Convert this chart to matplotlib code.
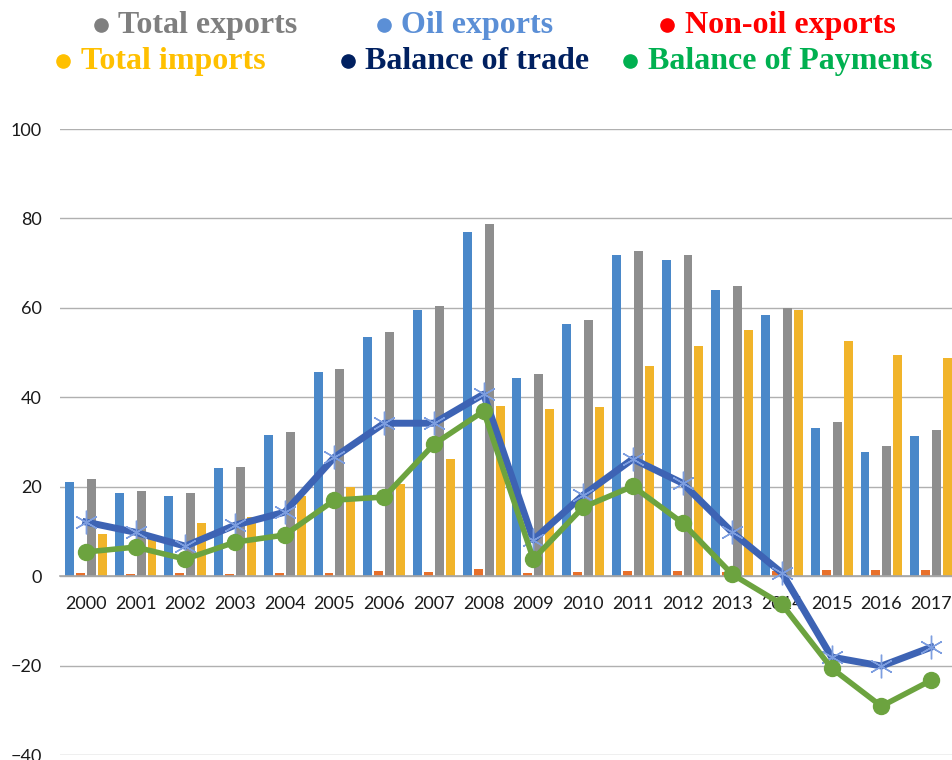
import matplotlib.pyplot as plt
import numpy as np

# Values (billions)
years = ["2000", "2001", "2002", "2003", "2004", "2005", "2006", "2007", "2008",
         "2009", "2010", "2011", "2012", "2013", "2014", "2015", "2016", "2017"]
oil_exports = [21.1, 18.5, 18.0, 24.1, 31.5, 45.7, 53.5, 59.5, 77.0,
               44.3, 56.3, 71.8, 70.6, 63.9, 58.4, 33.1, 27.8, 31.3]
non_oil_exports = [0.6, 0.5, 0.6, 0.5, 0.7, 0.7, 1.1, 1.0, 1.5,
                   0.8, 0.9, 1.1, 1.2, 0.9, 1.2, 1.4, 1.4, 1.4]
total_exports = [21.7, 19.0, 18.6, 24.5, 32.2, 46.3, 54.6, 60.5, 78.7,
                 45.3, 57.2, 72.8, 71.8, 64.9, 60.0, 34.5, 29.1, 32.7]
total_imports = [9.4, 9.3, 11.8, 13.2, 18.0, 19.9, 20.6, 26.2, 38.0,
                 37.3, 37.8, 47.0, 51.4, 55.0, 59.5, 52.6, 49.4, 48.8]
balance_trade = [12.1, 9.8, 6.7, 11.4, 14.3, 26.6, 34.2, 34.2, 40.7,
                 8.1, 18.1, 26.2, 20.8, 9.8, 0.7, -18.1, -20.1, -15.9]
balance_payments = [5.4, 6.5, 3.8, 7.6, 9.2, 17.0, 17.7, 29.5, 36.9,
                    3.8, 15.4, 20.1, 11.9, 0.4, -6.3, -20.6, -29.1, -23.3]

legend_rows = [
    [("Total exports", "#7f7f7f"), ("Oil exports", "#5b8fd6"), ("Non-oil exports", "#ff0000")],
    [("Total imports", "#ffc000"), ("Balance of trade", "#002060"), ("Balance of Payments", "#00b050")],
]

W, H = 953, 760
fig = plt.figure(figsize=(W / 100, H / 100), dpi=100)
ax = fig.add_axes([60 / W, 5 / H, 893 / W, 626 / H])

x = np.arange(len(years))
w = 0.18
ax.bar(x - 0.33, oil_exports, w, color="#4a88c9", zorder=2)
ax.bar(x - 0.11, non_oil_exports, w, color="#e8702a", zorder=2)
ax.bar(x + 0.11, total_exports, w, color="#8e8e8e", zorder=2)
ax.bar(x + 0.33, total_imports, w, color="#f1b42a", zorder=2)

ax.plot(x, balance_trade, color="#3d63b4", linewidth=5, zorder=3,
        solid_joinstyle="round", marker=(6, 2, 0), markersize=17,
        markeredgecolor="#7d9ee0", markeredgewidth=1.0)
ax.plot(x, balance_payments, color="#6ca33f", linewidth=4.0, zorder=4,
        marker="o", markersize=11.5, markerfacecolor="#6ca33f",
        markeredgecolor="#6ca33f")

ax.set_xlim(-0.52, 17.44)
ax.set_ylim(-40, 100)
ax.set_yticks(np.arange(-40, 101, 20))
ax.yaxis.grid(True, color="#b0b0b0", linewidth=1.0, zorder=0)
ax.set_axisbelow(True)

for side in ["left", "right", "top"]:
    ax.spines[side].set_visible(False)
ax.spines["bottom"].set_position(("data", 0))
ax.spines["bottom"].set_color("#a6a6a6")
ax.spines["bottom"].set_linewidth(1.2)

ax.set_xticks(x)
ax.set_xticklabels(years, fontfamily="Lato", fontsize=13, color="#1a1a1a")
ax.tick_params(axis="x", length=0, pad=14)
ax.tick_params(axis="y", length=0, pad=13, labelsize=13, labelcolor="#1a1a1a")
for lab in ax.get_yticklabels():
    lab.set_fontfamily("Lato")

# legend drawn as coloured dots and text, two rows
row_base = [33, 69]
bullet_x = [[101, 384, 667], [63, 348, 630]]
text_x = [[118, 401, 685], [81, 365, 648]]
for r, row in enumerate(legend_rows):
    for c, (name, col) in enumerate(row):
        yb = 1 - row_base[r] / H
        fig.add_artist(plt.Line2D([bullet_x[r][c] / W], [1 - (row_base[r] - 8) / H],
                                  transform=fig.transFigure, marker="o",
                                  markersize=9.5, color=col, linestyle="none"))
        fig.text(text_x[r][c] / W, yb, name, color=col,
                 fontfamily="Liberation Serif", fontweight="bold", fontsize=23,
                 ha="left", va="baseline")

fig.savefig("out.png", dpi=100)
